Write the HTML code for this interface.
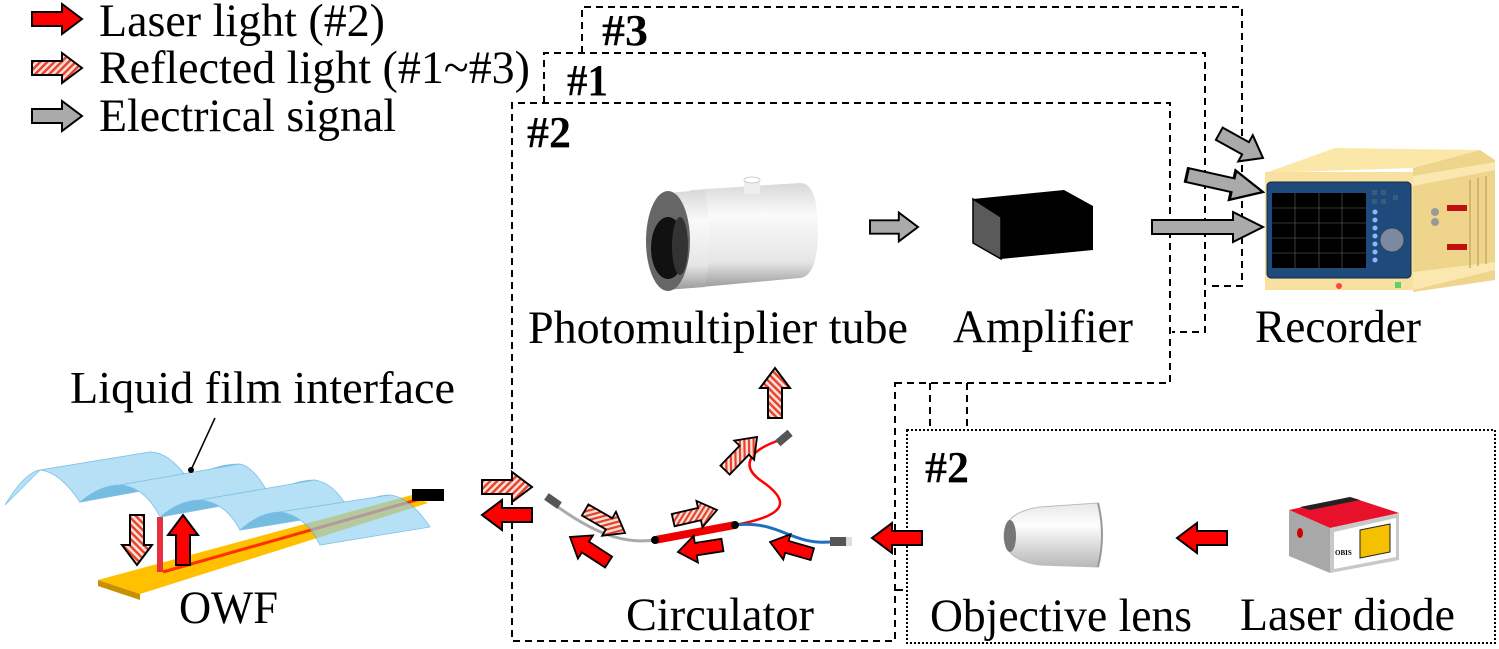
<!DOCTYPE html>
<html><head><meta charset="utf-8"><style>
html,body{margin:0;padding:0;background:#fff;}
svg{display:block;}
text{font-family:"Liberation Serif",serif;fill:#000;}
.b{font-weight:bold;}
</style></head><body>
<svg width="1499" height="649" viewBox="0 0 1499 649" xmlns="http://www.w3.org/2000/svg">
<defs>
<pattern id="h" width="5" height="5" patternUnits="userSpaceOnUse" patternTransform="rotate(45)">
<rect width="5" height="5" fill="#fbe0d8"/><rect width="2.4" height="5" fill="#e8402a"/>
</pattern>
<path id="ar" d="M-50,-7 L-20,-7 L-20,-15 L0,0 L-20,15 L-20,7 L-50,7 Z"/>
<linearGradient id="pm" x1="0" y1="0" x2="0" y2="1"><stop offset="0" stop-color="#d8d8d8"/><stop offset="0.3" stop-color="#fafafa"/><stop offset="0.75" stop-color="#e6e6e6"/><stop offset="1" stop-color="#9a9a9a"/></linearGradient>
<linearGradient id="ln" x1="0" y1="0" x2="0" y2="1"><stop offset="0" stop-color="#e8e8e8"/><stop offset="0.35" stop-color="#fdfdfd"/><stop offset="1" stop-color="#b8b8b8"/></linearGradient>
</defs>

<g fill="none" stroke="#000" stroke-width="2" stroke-dasharray="7,5">
<path d="M582,53 V7 H1242 V286 H1207"/>
<path d="M544,103 V53 H1205 V332 H1172"/>
<path d="M895,383 H1170 V103 H512 V641 H895 Z"/>
<path d="M930,383 V430 M967,383 V430"/>
</g>
<path d="M895,590 H903" stroke="#000" stroke-width="2"/>
<rect x="907" y="430" width="588" height="213" fill="none" stroke="#000" stroke-width="2" stroke-dasharray="2,2"/>

<g stroke="#000" stroke-width="2">
<use href="#ar" transform="translate(82,19)" fill="#f00"/>
<use href="#ar" transform="translate(82,68)" fill="url(#h)"/>
<use href="#ar" transform="translate(82,116)" fill="#aaa"/>
</g>
<text x="99" y="36" font-size="47" textLength="286" lengthAdjust="spacingAndGlyphs">Laser light (#2)</text>
<text x="99" y="83" font-size="47" textLength="431" lengthAdjust="spacingAndGlyphs">Reflected light (#1~#3)</text>
<text x="99" y="131" font-size="47" textLength="297" lengthAdjust="spacingAndGlyphs">Electrical signal</text>

<text class="b" x="602" y="45" font-size="44" textLength="46" lengthAdjust="spacingAndGlyphs">#3</text>
<text class="b" x="567" y="95" font-size="44" textLength="41" lengthAdjust="spacingAndGlyphs">#1</text>
<text class="b" x="527" y="147" font-size="44" textLength="44" lengthAdjust="spacingAndGlyphs">#2</text>
<text class="b" x="925" y="482" font-size="44" textLength="44" lengthAdjust="spacingAndGlyphs">#2</text>

<!-- PMT -->
<path d="M690,190 L800,183 Q818,183 818,230 Q818,276 800,278 L690,288 Z" fill="url(#pm)"/>
<rect x="744" y="180" width="16" height="14" fill="#eee"/>
<ellipse cx="752" cy="180" rx="8" ry="3" fill="#fff" stroke="#ccc"/>
<path d="M665,193 L705,190 Q715,240 705,287 L665,290 Z" fill="url(#pm)"/>
<ellipse cx="668" cy="241" rx="22" ry="50" fill="#666"/>
<ellipse cx="668" cy="248" rx="17" ry="31" fill="#111"/>
<ellipse cx="680" cy="246" rx="8" ry="29" fill="#333"/>
<text x="528" y="343" font-size="47" textLength="380" lengthAdjust="spacingAndGlyphs">Photomultiplier tube</text>

<g stroke="#000" stroke-width="2">
<use href="#ar" transform="translate(918,227) scale(0.96)" fill="#aaa"/>
<path d="M1152,220 H1233 V212 L1263,227 L1233,242 V234 H1152 Z" fill="#aaa"/>
<use href="#ar" transform="translate(1263,192) rotate(12.6) scale(1.56,1)" fill="#aaa"/>
<use href="#ar" transform="translate(1263,158) rotate(29)" fill="#aaa"/>
</g>

<polygon points="973,199 1064,190 1093,206 1093,250 1001,259 1001,217" fill="#000"/>
<polygon points="973,199 1001,217 1001,259 973,243" fill="#5a5a5a" stroke="#000" stroke-width="1.5"/>
<text x="953" y="342" font-size="47" textLength="180" lengthAdjust="spacingAndGlyphs">Amplifier</text>

<!-- recorder -->
<polygon points="1265,173 1335,148 1480,150 1413,168" fill="#fbe8a8"/>
<polygon points="1413,168 1480,150 1495,160 1495,280 1413,292" fill="#efd48c"/>
<rect x="1265" y="172" width="148" height="118" fill="#f7e0a0"/>
<path d="M1413,176 L1495,162 L1495,170 L1413,186 Z M1413,272 L1495,262 L1495,270 L1413,290 Z" fill="#fbe8b0"/>
<g stroke="#c8ac60" stroke-width="1.5"><path d="M1470,180 V268 M1478,178 V266 M1486,176 V264"/></g>
<rect x="1267" y="182" width="144" height="96" rx="4" fill="#1f4a7c" stroke="#0e2a4c"/>
<rect x="1272" y="193" width="94" height="75" fill="#000"/>
<g stroke="#666" stroke-width="0.6"><path d="M1295,193V268M1319,193V268M1342,193V268M1272,208H1366M1272,223H1366M1272,238H1366M1272,253H1366"/></g>
<g fill="#3a5a80"><rect x="1372" y="190" width="5" height="5"/><rect x="1381" y="190" width="5" height="5"/><rect x="1372" y="199" width="5" height="5"/><rect x="1381" y="199" width="5" height="5"/><rect x="1393" y="195" width="5" height="5"/></g>
<circle cx="1392" cy="240" r="12" fill="#7a8aa0" stroke="#345"/>
<g fill="#8fb6ff"><circle cx="1375" cy="212" r="2.5"/><circle cx="1375" cy="220" r="2.5"/><circle cx="1375" cy="228" r="2.5"/><circle cx="1375" cy="236" r="2.5"/><circle cx="1375" cy="244" r="2.5"/><circle cx="1375" cy="252" r="2.5"/><circle cx="1375" cy="260" r="2.5"/></g>
<circle cx="1339" cy="286" r="3" fill="#f44"/>
<rect x="1395" y="282" width="6" height="6" fill="#6c6"/>
<g fill="#c01010"><rect x="1447" y="205" width="20" height="6"/><rect x="1447" y="244" width="20" height="6"/></g>
<circle cx="1435" cy="212" r="4" fill="#999"/><circle cx="1435" cy="222" r="4" fill="#999"/>
<text x="1255" y="342" font-size="47" textLength="166" lengthAdjust="spacingAndGlyphs">Recorder</text>

<!-- liquid film / OWF -->
<text x="70" y="403" font-size="45" textLength="385" lengthAdjust="spacingAndGlyphs">Liquid film interface</text>
<line x1="215" y1="418" x2="191" y2="470" stroke="#000" stroke-width="1.5"/>
<polygon points="98,580 412,495 428,503 140,594" fill="#ffc000"/>
<polygon points="98,580 140,594 140,600 98,586" fill="#c89000"/>
<line x1="163" y1="572" x2="420" y2="499" stroke="#ff3000" stroke-width="3"/>
<rect x="157" y="517" width="6" height="55" fill="#e83040"/>
<g opacity="0.65" stroke="#3aa0d8" stroke-width="0.8">
<path d="M5,505 Q25,472 40,470 L150,452 Q170,452 190,482 L80,502 Q60,472 40,470 Z" fill="#8fd0f0"/>
<path d="M40,470 Q60,472 80,502 L190,482 Q170,452 150,452 Z" fill="#8fd0f0"/>
<path d="M80,502 Q100,485 120,485 L240,464 Q210,464 190,482 Z" fill="#2a9ad0"/>
<path d="M120,485 Q145,487 160,517 L270,497 Q255,467 240,464 Z" fill="#8fd0f0"/>
<path d="M160,517 Q180,500 200,500 L315,480 Q290,480 270,497 Z" fill="#2a9ad0"/>
<path d="M200,500 Q225,502 240,530 L350,512 Q335,483 315,480 Z" fill="#8fd0f0"/>
<path d="M240,530 Q260,512 280,512 L390,495 Q370,495 350,512 Z" fill="#2a9ad0"/>
<path d="M280,512 Q305,515 320,545 L430,527 Q410,497 390,495 Z" fill="#8fd0f0"/>
</g>
<circle cx="191" cy="470" r="3" fill="#000"/>
<rect x="412" y="489" width="32" height="12" fill="#000"/>
<g stroke="#000" stroke-width="2">
<use href="#ar" transform="translate(137,565) rotate(90)" fill="url(#h)"/>
<use href="#ar" transform="translate(183,515) rotate(-90)" fill="#f00"/>
</g>
<text x="179" y="623" font-size="47" textLength="99" lengthAdjust="spacingAndGlyphs">OWF</text>

<!-- circulator -->
<g stroke="#000" stroke-width="2">
<use href="#ar" transform="translate(532,487)" fill="url(#h)"/>
<use href="#ar" transform="translate(482,515) rotate(180)" fill="#f00"/>
</g>
<path d="M555,505 C590,530 620,545 655,540" fill="none" stroke="#aaa" stroke-width="3"/>
<path d="M735,525 C790,515 790,500 760,480 C740,465 750,450 780,440" fill="none" stroke="#f00" stroke-width="2.5"/>
<path d="M735,525 C780,520 790,545 830,542" fill="none" stroke="#1e6fc0" stroke-width="3"/>
<line x1="655" y1="540" x2="735" y2="525" stroke="#e00" stroke-width="8"/>
<circle cx="655" cy="540" r="4" fill="#000"/><circle cx="735" cy="525" r="4" fill="#000"/>
<rect x="545" y="497" width="16" height="8" fill="#555" transform="rotate(35 553 501)"/>
<rect x="830" y="537" width="20" height="9" fill="#555"/><rect x="846" y="537" width="6" height="9" fill="#ddd"/>
<rect x="776" y="434" width="16" height="8" fill="#555" transform="rotate(-40 784 438)"/>
<g stroke="#000" stroke-width="2">
<use href="#ar" transform="translate(625,533) rotate(30) scale(0.92)" fill="url(#h)"/>
<use href="#ar" transform="translate(570,537) rotate(213) scale(0.92)" fill="#f00"/>
<use href="#ar" transform="translate(717,510) rotate(-13) scale(0.9)" fill="url(#h)"/>
<use href="#ar" transform="translate(678,552) rotate(171) scale(0.9)" fill="#f00"/>
<use href="#ar" transform="translate(770,542) rotate(196) scale(0.88)" fill="#f00"/>
<use href="#ar" transform="translate(757,437) rotate(-46) scale(0.92)" fill="url(#h)"/>
<use href="#ar" transform="translate(775,368) rotate(-90)" fill="url(#h)"/>
<use href="#ar" transform="translate(872,538) rotate(180)" fill="#f00"/>
<use href="#ar" transform="translate(1177,538) rotate(180)" fill="#f00"/>
</g>
<text x="626" y="630" font-size="47" textLength="188" lengthAdjust="spacingAndGlyphs">Circulator</text>

<!-- objective lens -->
<path d="M1040,507 L1098,503 Q1106,535 1098,567 L1040,565 Q1004,560 1004,536 Q1004,512 1040,507 Z" fill="url(#ln)" stroke="#bbb"/>
<ellipse cx="1010" cy="536" rx="6" ry="16" fill="#777"/>
<path d="M1098,503 Q1106,535 1098,567" fill="none" stroke="#999" stroke-width="2"/>
<text x="930" y="631" font-size="47" textLength="262" lengthAdjust="spacingAndGlyphs">Objective lens</text>

<!-- laser diode -->
<polygon points="1289,510 1350,497 1399,513 1330,528" fill="#e8102a"/>
<polygon points="1300,507 1350,497 1360,500 1310,510" fill="#222"/>
<polygon points="1289,510 1330,528 1330,573 1289,556" fill="#a8a8a8"/>
<polygon points="1330,528 1399,513 1399,560 1330,573" fill="#c8c8c8"/>
<polygon points="1334,532 1396,518 1396,557 1334,569" fill="#fff"/>
<polygon points="1360,530 1390,524 1390,552 1360,558" fill="#f5c000" stroke="#222"/>
<ellipse cx="1300" cy="533" rx="3" ry="5" fill="#c00"/>
<text x="1335" y="555" font-size="7" font-family="Liberation Sans" font-weight="bold">OBIS</text>
<text x="1240" y="630" font-size="47" textLength="215" lengthAdjust="spacingAndGlyphs">Laser diode</text>
</svg>
</body></html>
